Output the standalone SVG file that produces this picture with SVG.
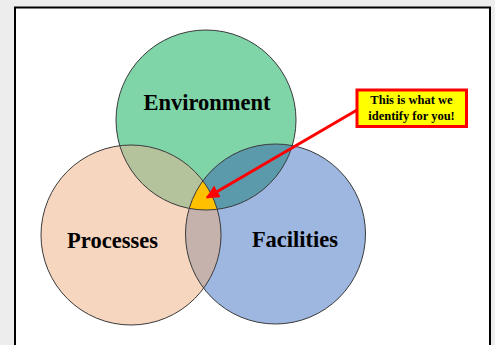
<svg xmlns="http://www.w3.org/2000/svg" width="495" height="345" viewBox="0 0 495 345">
<defs>
<style>
.lbl{font-family:"Liberation Serif","Times New Roman",serif;font-weight:bold;fill:#000;text-anchor:middle}
.big{font-size:22.5px}
.small{font-size:12.5px}
.ring{fill:none;stroke:#3a3a3a;stroke-width:1}
</style>
<clipPath id="cE"><circle cx="206" cy="120" r="90"/></clipPath>
<clipPath id="cP"><circle cx="131" cy="235" r="90"/></clipPath>
<clipPath id="cF"><circle cx="275.5" cy="234" r="90"/></clipPath>
<marker id="ah" viewBox="0 0 10 10" refX="9" refY="5" markerWidth="4.5" markerHeight="4.5" orient="auto" markerUnits="strokeWidth">
<path d="M0,0 L10,5 L0,10 z" fill="#ff0000"/>
</marker>
</defs>
<rect x="0" y="0" width="495" height="345" fill="#ededed"/>
<rect x="15" y="7.5" width="475" height="345" fill="#ffffff" stroke="#000" stroke-width="2"/>
<g id="environment">
<circle cx="206" cy="120" r="90" fill="#7fd4a8"/>
</g>
<g id="processes">
<circle cx="131" cy="235" r="90" fill="#f6d6bf"/>
</g>
<g id="facilities">
<circle cx="275.5" cy="234" r="90" fill="#9eb7e0"/>
</g>
<g id="overlaps">
<g clip-path="url(#cE)"><circle cx="131" cy="235" r="90" fill="#b4c39c"/><circle cx="275.5" cy="234" r="90" fill="#5b9aab"/></g>
<g clip-path="url(#cP)"><circle cx="275.5" cy="234" r="90" fill="#c6b2ac"/></g>
<g clip-path="url(#cP)"><g clip-path="url(#cF)"><circle cx="206" cy="120" r="90" fill="#ffc000"/></g></g>
</g>
<g id="outlines">
<circle class="ring" cx="206" cy="120" r="90"/>
<circle class="ring" cx="131" cy="235" r="90"/>
<circle class="ring" cx="275.5" cy="234" r="90"/>
</g>
<g id="labels">
<text class="lbl big" x="207" y="110">Environment</text>
<text class="lbl big" x="112.5" y="248">Processes</text>
<text class="lbl big" x="295" y="247">Facilities</text>
</g>
<g id="connectors">
<line x1="357" y1="110" x2="207" y2="197.5" stroke="#ff0000" stroke-width="3" marker-end="url(#ah)"/>
</g>
<g id="callout">
<rect x="357" y="90" width="109.5" height="36.5" fill="#ffff00" stroke="#ff0000" stroke-width="3"/>
<text class="lbl small" x="411.5" y="104">This is what we</text>
<text class="lbl small" x="411.5" y="119.5">identify for you!</text>
</g>
</svg>
